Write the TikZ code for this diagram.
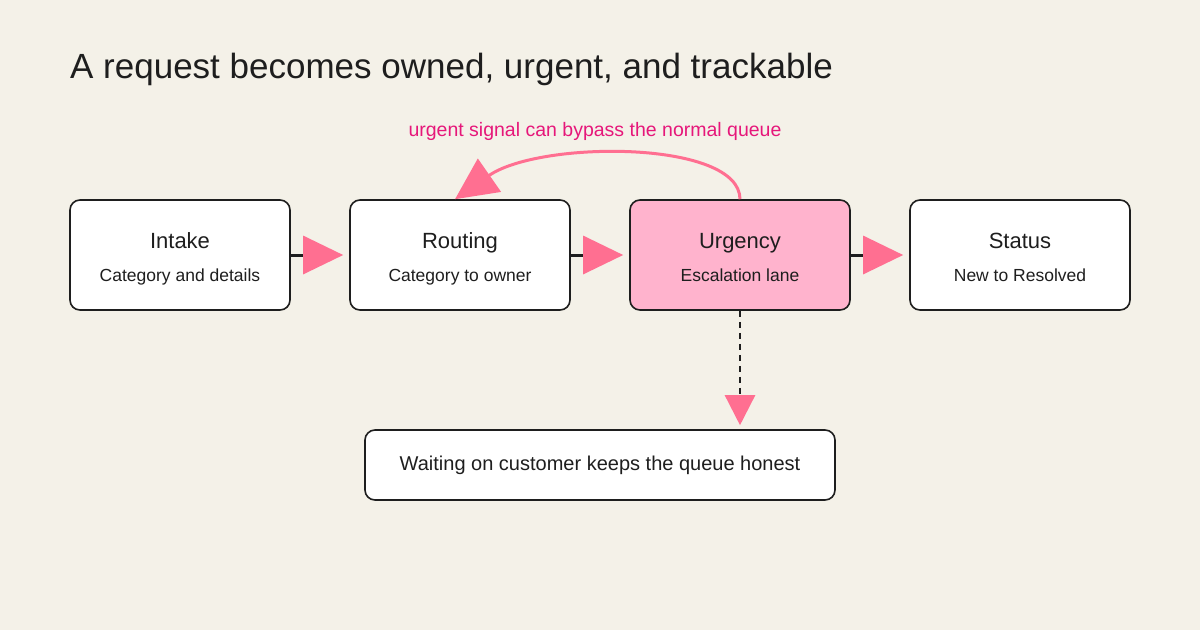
\documentclass[tikz,border=0pt]{standalone}
\usepackage{fontspec}
\setmainfont{Liberation Sans}
\usetikzlibrary{arrows.meta}
\definecolor{bg}{HTML}{F4F1E8}
\definecolor{pk}{HTML}{FF6F91}
\definecolor{pkfill}{HTML}{FFB3CD}
\definecolor{mag}{HTML}{E6177A}
\definecolor{ink}{HTML}{1E1E1E}
\begin{document}
\begin{tikzpicture}[x=1pt,y=-1pt,
  box/.style={draw=ink,line width=1.6pt,rounded corners=10pt,fill=white,minimum width=220pt,minimum height=110pt,inner sep=0pt},
  flow/.style={line width=3pt,draw=ink,-{Triangle[length=40pt,width=38pt,color=pk]},shorten >=6pt},
  ttl/.style={font=\fontsize{22}{26}\selectfont,text=ink,anchor=base,inner sep=0pt},
  sub/.style={font=\fontsize{17.5}{21}\selectfont,text=ink,anchor=base,inner sep=0pt}]
\fill[bg] (0,0) rectangle (1200,630);
\useasboundingbox (0,0) rectangle (1200,630);
\node[anchor=west,text=ink,font=\fontsize{35}{40}\selectfont,inner sep=0pt] (title) at (70,69) {A request becomes owned, urgent, and trackable};
\node[box] (intake) at (180,255) {};
\node[box] (routing) at (460,255) {};
\node[box,fill=pkfill] (urg) at (740,255) {};
\node[box] (status) at (1020,255) {};
\foreach \n/\a/\b in {intake/Intake/Category and details,routing/Routing/Category to owner,urg/Urgency/Escalation lane,status/Status/New to Resolved}{
  \node[ttl] at ([yshift=7pt]\n.center) {\a};
  \node[sub] at ([yshift=-26pt]\n.center) {\b};
}
\node[box,minimum width=470pt,minimum height=70pt] (wait) at (600,465) {};
\node[sub,font=\fontsize{20}{24}\selectfont,anchor=center] at (wait.center) {Waiting on customer keeps the queue honest};
\draw[flow] (intake.east) -- (routing.west);
\draw[flow] (routing.east) -- (urg.west);
\draw[flow] (urg.east) -- (status.west);
\draw[line width=2.5pt,draw=ink,dash pattern=on 6pt off 5pt,-{Triangle[length=30pt,width=30pt,color=pk]},shorten >=4pt] (urg.south) -- (wait.north -| urg.south);
\draw[line width=3pt,draw=pk,-{Triangle[length=42pt,width=40pt]}] (urg.north) .. controls (740,140) and (540,140) .. ([xshift=-5pt]routing.north);
\node[text=mag,font=\fontsize{19.5}{22}\selectfont] (lbl) at (595,131) {urgent signal can bypass the normal queue};
\end{tikzpicture}
\end{document}
